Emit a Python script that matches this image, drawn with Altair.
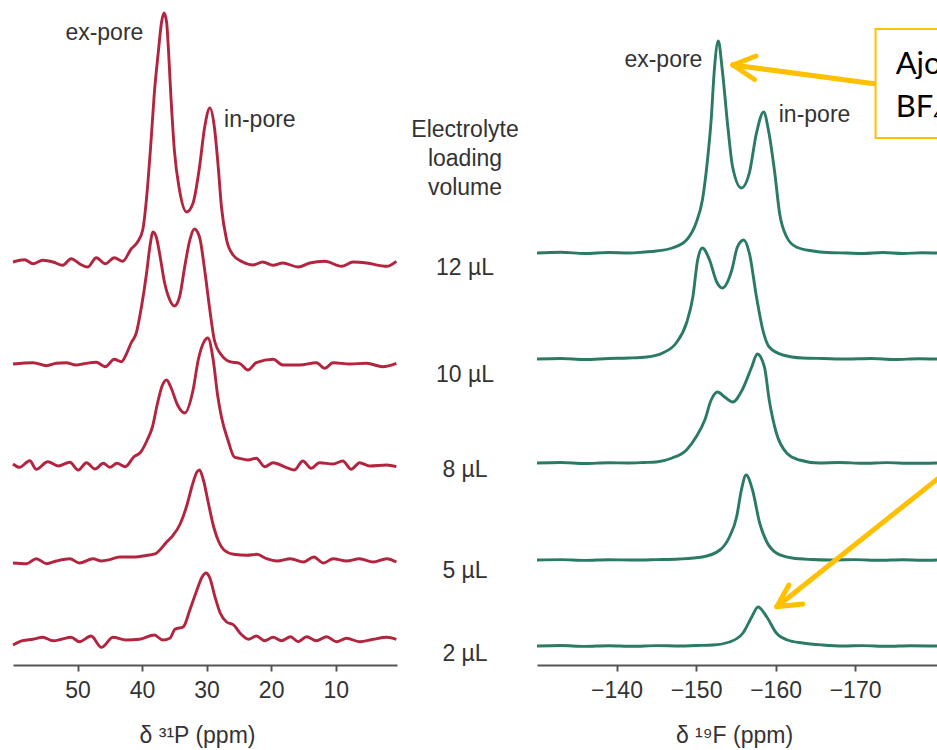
import altair as alt
import pandas as pd

FONT = "Liberation Sans"
TEXT_COLOR = "#333333"
AXIS_COLOR = "#555555"
P_COLOR = "#B3243F"
F_COLOR = "#2A7A66"
GOLD = "#FFC000"

VOLUMES = ["12 µL", "10 µL", "8 µL", "5 µL", "2 µL"]
# baseline of each trace (stacking offset, intensity units = px of the figure)
P_OFFSETS = [403, 301, 200, 104, 25]
F_OFFSETS = [412, 306, 202, 105, 19]

# ---------- 31P spectra (ppm, intensity above baseline) ----------
P12_PPM = [60.0, 58.2, 56.9, 55.4, 53.8, 52.3, 51.0, 49.7, 48.4, 47.1, 45.7, 44.3, 43.0, 41.7, 40.7,
           39.9, 39.1, 38.6, 38.1, 37.5, 37.0, 36.6, 36.2, 36.0, 35.5, 35.0, 34.2, 33.1, 32.1, 31.1,
           30.3, 29.5, 28.8, 28.2, 27.7, 26.9, 25.9, 24.4, 22.8, 21.3, 19.7, 18.2, 15.8, 14.0, 11.7,
           9.1, 7.3, 5.2, 2.1, 0.6]
P12_INT = [0, 2.3, -1.7, 1.7, 0, -3.3, 3.3, -1.7, -5, 4.3, -1.7, 4.3, 0.7, 13, 20,
           32, 79, 122, 169, 209, 239, 249, 240, 222, 162, 112, 72, 50, 59, 95,
           135, 154, 135, 95, 55, 22, 7, 0, -3, 0, -3.3, -1, -5, -1, 0.7,
           -4.3, 0, -1, -4.3, 0.7]

P10_PPM = [60.0, 56.9, 54.8, 53.3, 51.8, 50.2, 49.2, 47.1, 45.7, 44.3, 43.2, 42.5, 41.7, 40.9, 40.1,
           39.3, 38.8, 38.3, 37.8, 37.3, 36.5, 35.7, 35.0, 34.2, 33.4, 32.6, 31.9, 31.1, 30.3, 29.5,
           28.8, 27.7, 26.4, 24.9, 23.6, 22.3, 19.7, 18.2, 15.6, 13.0, 11.7, 10.4, 7.8, 5.2, 2.7, 0.6]
P10_INT = [0, 1.3, -1.7, 0.7, 1.3, -1, 0, 1.7, -2.7, 4.7, 2.3, 9, 21, 31, 57,
           91, 117, 132, 127, 111, 81, 64, 58, 67, 97, 124, 135, 127, 94, 54,
           24, 9, 2.3, 0.7, -6, 1.3, 4.7, -1, -1, 1.3, -4.3, 1.3, 0, 0.7, -2.7, 0.7]

P8_PPM = [60.0, 59.0, 57.4, 56.4, 54.6, 53.0, 51.2, 49.9, 48.6, 47.3, 46.0, 45.0, 43.9, 42.6, 41.3,
          40.2, 39.2, 38.4, 37.6, 36.9, 36.2, 35.5, 34.5, 33.4, 32.1, 31.3, 30.5, 29.8, 29.0, 28.3,
          27.7, 26.7, 25.7, 24.9, 23.6, 22.3, 21.0, 19.7, 17.7, 16.4, 15.1, 13.8, 12.5, 10.4, 8.9,
          7.6, 6.3, 4.7, 2.1, 0.6]
P8_INT = [1, -2.3, 4.3, -4.3, 3.3, -1, 2.7, -5, 2.3, -4, 1.7, -2.3, 1.7, -1.7, 8,
          13, 25, 38, 62, 79, 85, 77, 60, 52, 75, 105, 122, 127, 106, 70,
          48, 25, 8, 6.7, 5, 6.7, -1.7, 2.3, -2.3, -5, 4, -3.3, 2.3, 1, 4,
          -4.3, 2.3, -1, 0, -1.7]

P5_PPM = [60.0, 57.9, 56.4, 54.8, 53.3, 51.2, 49.7, 47.6, 46.3, 45.0, 43.5, 41.3, 39.2, 37.9, 37.3,
          36.2, 35.2, 34.1, 33.0, 32.3, 31.5, 31.1, 30.5, 29.7, 28.9, 28.1, 27.3, 25.8, 23.7, 22.2,
          20.7, 19.1, 17.0, 15.0, 13.4, 11.9, 10.4, 8.3, 6.3, 4.2, 2.1, 0.6]
P5_INT = [-2, -2.7, 2.3, -2.7, 0, 2.3, -2, 2.3, 0, 1.3, 4, 4, 5.7, 7.3, 10.7,
          19, 25.7, 37, 57, 74, 89, 91, 81, 57, 34, 19, 11, 6.7, 5.7, 6.7,
          2.3, 0, 2.3, -1, 4, -2, 2.3, 0, 2.3, -1, 2.3, -1]

P2_PPM = [60.0, 58.5, 56.9, 55.4, 53.8, 52.5, 51.0, 49.7, 47.9, 46.3, 44.5, 42.5, 40.4, 38.1, 36.8,
          35.7, 34.9, 33.6, 32.6, 31.5, 30.7, 30.1, 29.5, 28.7, 27.9, 26.9, 25.8, 24.8, 23.5, 22.3,
          21.0, 19.7, 18.4, 17.0, 15.8, 14.5, 13.0, 11.4, 9.9, 8.3, 6.3, 4.2, 2.1, 0.6]
P2_INT = [-5, -0.7, 0.7, 2.7, -0.7, 0.7, 2.7, -1.7, 4, -7.3, 2.7, 0, 0.7, 5, 0,
          1.7, 10.7, 13.3, 30, 50, 63, 67, 62, 43, 27, 18, 15, 6.7, 0.7, 4,
          -0.7, 2.7, -0.7, 3.3, -1.7, 3.3, -0.7, 3.3, -1.7, 1.7, -1.7, 0.7, 2.7, 0.7]

# ---------- 19F spectra ----------
F12_PPM = [-130, -133, -136, -139, -141.6, -143.5, -145.0, -147.0, -148.8, -150.0, -150.8, -151.4,
           -151.9, -152.3, -152.8, -153.3, -154.0, -154.6, -155.7, -156.7, -157.6, -158.5, -159.1,
           -159.9, -160.5, -161.4, -162.6, -164.7, -166.5, -168.9, -171, -173.5, -176, -178.5, -180.3]
F12_INT = [0, 0.7, -0.5, 0.5, 0, 1, 2, 5, 13, 30, 53, 90,
           133, 183, 212, 183, 126, 86, 65, 80, 120, 141, 123,
           80, 40, 16, 6, 2, 0.5, 0, -0.5, 0.5, -0.5, 0.3, 0]

F10_PPM = [-130, -133, -136, -139, -141.5, -143.8, -145.8, -147.5, -148.8, -149.6, -150.2, -150.8,
           -151.7, -152.6, -153.3, -154.5, -155.2, -156.0, -156.7, -157.6, -158.4, -159.2, -160.9,
           -163.4, -166, -169, -172, -175, -178, -180.3]
F10_INT = [0, 0.5, -0.5, 0.5, 1, 2, 6, 16, 36, 62, 99, 111,
           99, 77, 71, 89, 112, 119, 106, 62, 29, 12, 4,
           1, 0.5, 0, 0.5, -0.5, 0.3, 0]

F8_PPM = [-130, -133, -136, -139, -141.5, -143.5, -145.0, -147.0, -148.8, -150.0, -151.1, -151.9,
          -152.7, -153.6, -154.6, -155.8, -157.0, -157.7, -158.6, -159.2, -160.1, -161.4, -163.0,
          -165.5, -168, -171, -174, -177, -180.3]
F8_INT = [0, 0.5, -0.5, 0.3, 0, 0.5, 1, 5, 13, 26, 43, 63,
          71, 66, 61, 73, 96, 109, 96, 63, 30, 10, 3,
          0, 0.5, -0.3, 0.4, -0.3, 0]

F5_PPM = [-130, -133, -136, -139, -142, -145, -147.9, -150.8, -153.0, -154.2, -155.1, -155.7,
          -156.3, -157.1, -158.0, -158.9, -160.1, -162.1, -164.5, -167, -170, -173, -176, -178.5, -180.3]
F5_INT = [0, 0.4, -0.4, 0.3, 0, 0.4, 1, 3, 10, 23, 43, 70,
          85, 70, 37, 18, 7, 2, 0.5, 0, 0.4, -0.3, 0.3, -0.3, 0]

F2_PPM = [-130, -133, -136, -139, -142, -145, -148, -150, -152.1, -154.2, -155.9, -157.0,
          -157.8, -158.9, -160.1, -161.5, -163.4, -165.9, -168.5, -171, -174, -177, -180.3]
F2_INT = [0, 0.5, -0.4, 0.3, -0.3, 0.4, 0, 0.5, 1, 4, 13, 29,
          39, 29, 13, 6, 3, 1, 0, 0.4, -0.3, 0.3, 0]

P_TICKS = [50, 40, 30, 20, 10]
F_TICKS = [-140, -150, -160, -170]

# labels
HEADER_LINES = ["Electrolyte", "loading", "volume"]
HEADER_Y = [535, 506, 477]
VOL_LABEL_Y = [397, 290, 195, 94, 11]


def spectra_df(ppm_lists, int_lists, offsets):
    rows = []
    for vol, ppms, ints, off in zip(VOLUMES, ppm_lists, int_lists, offsets):
        for i, (p, v) in enumerate(zip(ppms, ints)):
            rows.append({"volume": vol, "ppm": p, "y": off + v, "idx": i})
    return pd.DataFrame(rows)


p_df = spectra_df([P12_PPM, P10_PPM, P8_PPM, P5_PPM, P2_PPM],
                  [P12_INT, P10_INT, P8_INT, P5_INT, P2_INT], P_OFFSETS)
f_df = spectra_df([F12_PPM, F10_PPM, F8_PPM, F5_PPM, F2_PPM],
                  [F12_INT, F10_INT, F8_INT, F5_INT, F2_INT], F_OFFSETS)

W, H = 924, 665
P_SCALE = alt.Scale(domain=[60, 0.5], range=[0, 384], nice=False, zero=False)
F_SCALE = alt.Scale(domain=[-130, -180.3], range=[524, 924], nice=False, zero=False)
Y_SCALE = alt.Scale(domain=[0, H], nice=False, zero=False)


def axis(values, title, title_x):
    return alt.Axis(orient="bottom", values=values, title=title, grid=False, format="d",
                    domainColor=AXIS_COLOR, domainWidth=2, tickColor=AXIS_COLOR, tickWidth=2,
                    tickSize=6, labelFont=FONT, labelFontSize=23, labelColor=TEXT_COLOR,
                    labelPadding=19, labelBaseline="middle", labelFlush=False, labelOverlap=False,
                    titleFont=FONT, titleFontSize=23, titleFontWeight="normal",
                    titleColor=TEXT_COLOR, titleX=title_x, titleY=70, titleBaseline="middle")


p_lines = alt.Chart(p_df).mark_line(color=P_COLOR, strokeWidth=2.9, interpolate="monotone",
                                    strokeJoin="round").encode(
    x=alt.X("ppm:Q", scale=P_SCALE, axis=axis(P_TICKS, "δ ³¹P (ppm)", 184)),
    y=alt.Y("y:Q", scale=Y_SCALE, axis=None),
    detail="volume:N",
    order="idx:Q",
)
f_lines = alt.Chart(f_df).mark_line(color=F_COLOR, strokeWidth=2.9, interpolate="monotone",
                                    strokeJoin="round").encode(
    x=alt.X("ppm:Q", scale=F_SCALE, axis=axis(F_TICKS, "δ ¹⁹F (ppm)", 721)),
    y=alt.Y("y:Q", scale=Y_SCALE, axis=None),
    detail="volume:N",
    order="idx:Q",
)


def peak_labels(rows, scale, align):
    df = pd.DataFrame(rows)
    return alt.Chart(df).mark_text(align=align, baseline="middle", font=FONT, fontSize=23,
                                   color=TEXT_COLOR).encode(
        x=alt.X("ppm:Q", scale=scale, axis=None),
        y=alt.Y("y:Q", scale=Y_SCALE, axis=None),
        text="label:N",
    )


p_ex = peak_labels([{"label": "ex-pore", "ppm": 39.8, "y": 632}], P_SCALE, "right")
p_in = peak_labels([{"label": "in-pore", "ppm": 27.3, "y": 545}], P_SCALE, "left")
f_ex = peak_labels([{"label": "ex-pore", "ppm": -150.8, "y": 605}], F_SCALE, "right")
f_in = peak_labels([{"label": "in-pore", "ppm": -160.4, "y": 550}], F_SCALE, "left")

mid_df = pd.DataFrame({"label": HEADER_LINES + VOLUMES, "y": HEADER_Y + VOL_LABEL_Y})
mid_labels = alt.Chart(mid_df).mark_text(align="center", baseline="middle", font=FONT,
                                         fontSize=23, color=TEXT_COLOR).encode(
    x=alt.value(452),
    y=alt.Y("y:Q", scale=Y_SCALE, axis=None),
    text="label:N",
)

# annotation arrows (ppm on the 19F scale, y in stacking units)
arrow_df = pd.DataFrame({
    "x1": [-172.66, -154.63, -154.63, -183.13, -160.16, -160.16],
    "x2": [-154.63, -157.54, -157.35, -160.16, -161.67, -163.43],
    "y1": [581, 600, 600, 203.5, 58.3, 58.3],
    "y2": [600, 609, 585.5, 58.3, 80, 61],
})
arrows = alt.Chart(arrow_df).mark_rule(color=GOLD, strokeWidth=5, strokeCap="round",
                                       clip=True).encode(
    x=alt.X("x1:Q", scale=F_SCALE, axis=None), x2="x2:Q",
    y=alt.Y("y1:Q", scale=Y_SCALE, axis=None), y2="y2:Q",
)

box_df = pd.DataFrame({"x1": [-172.57], "x2": [-190], "y1": [636], "y2": [527]})
box = alt.Chart(box_df).mark_rect(fill="white", stroke=GOLD, strokeWidth=2, clip=True).encode(
    x=alt.X("x1:Q", scale=F_SCALE, axis=None), x2="x2:Q",
    y=alt.Y("y1:Q", scale=Y_SCALE, axis=None), y2="y2:Q",
)
box_text_df = pd.DataFrame({"label": ["Ajout de", "BF₄⁻ libre"], "ppm": [-175.1, -175.1],
                            "y": [600, 557]})
box_text = alt.Chart(box_text_df).mark_text(align="left", baseline="middle", font="Lato",
                                            fontSize=31, color="black", clip=True).encode(
    x=alt.X("ppm:Q", scale=F_SCALE, axis=None),
    y=alt.Y("y:Q", scale=Y_SCALE, axis=None),
    text="label:N",
)

chart = alt.layer(
    p_lines, f_lines, p_ex, p_in, f_ex, f_in, mid_labels, arrows, box, box_text
).resolve_scale(x="independent").properties(
    width=W, height=H,
    autosize=alt.AutoSizeParams(type="none"),
    padding={"left": 13, "top": 0, "right": 0, "bottom": 85},
    background="white",
).configure_view(stroke=None)

chart.save("out.html", embed_options={"renderer": "svg", "actions": False})
